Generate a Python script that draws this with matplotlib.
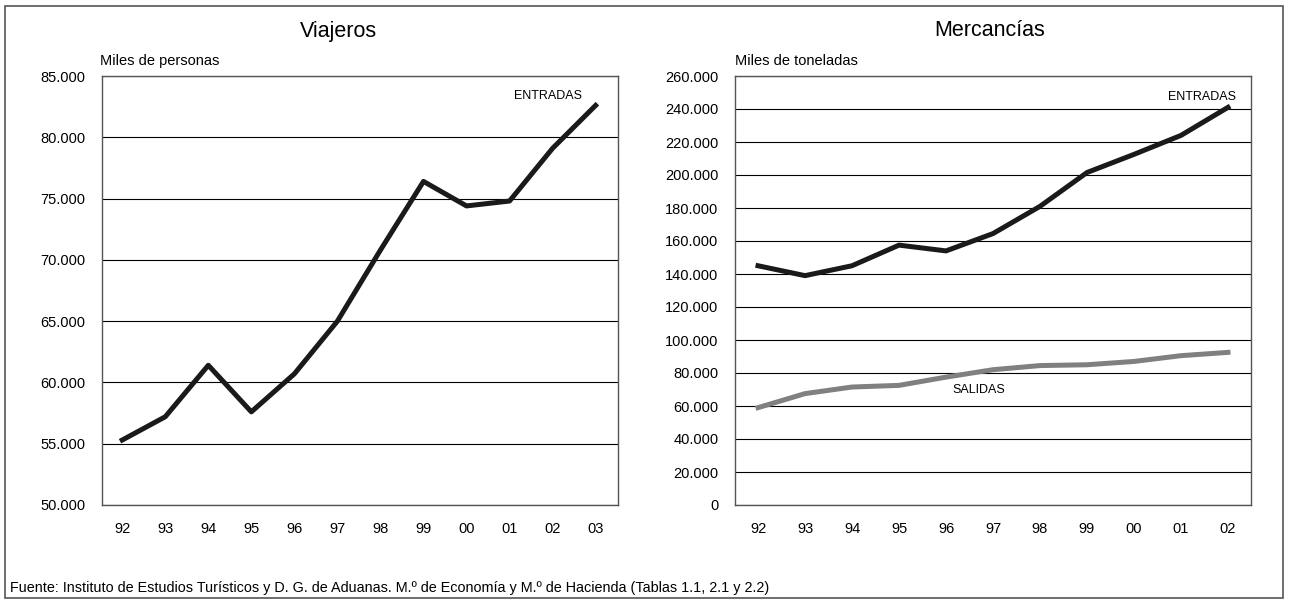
import matplotlib.pyplot as plt
from matplotlib.patches import Rectangle
from matplotlib.ticker import FuncFormatter

# Data (thousands)
years_v = ["92", "93", "94", "95", "96", "97", "98", "99", "00", "01", "02", "03"]
viajeros = [55300, 57200, 61400, 57600, 60700, 65000, 70800, 76400, 74400, 74800, 79100, 82600]

years_m = ["92", "93", "94", "95", "96", "97", "98", "99", "00", "01", "02"]
merc_entradas = [145000, 139000, 145000, 157500, 154000, 164500, 181000, 201500, 212500, 224000, 241000]
merc_salidas = [59000, 67500, 71500, 72500, 77500, 82000, 84500, 85000, 87000, 90500, 92500]

plt.rcParams["font.family"] = ["Liberation Sans", "DejaVu Sans"]

fig = plt.figure(figsize=(12.9, 6.04), dpi=100)
W, H = 1290, 604


def px_axes(x0, y0, x1, y1):
    return fig.add_axes([x0 / W, 1 - y1 / H, (x1 - x0) / W, (y1 - y0) / H])


def thousands(v, pos):
    return f"{int(v):,}".replace(",", ".")


def style(ax, n, ymin, ymax, step, labels):
    ax.set_ylim(ymin, ymax)
    ax.set_yticks(range(ymin, ymax + 1, step))
    ax.yaxis.set_major_formatter(FuncFormatter(thousands))
    ax.set_xticks(range(n))
    ax.set_xticklabels(labels)
    ax.grid(axis="y", color="black", linewidth=0.8)
    ax.set_axisbelow(True)
    ax.tick_params(length=0, labelsize=10.5, pad=12)
    for s in ax.spines.values():
        s.set_color("#555555")
        s.set_linewidth(1.0)


# Outer frame
fig.patches.append(Rectangle((5 / W, 6 / H), 1278 / W, 592 / H, transform=fig.transFigure,
                             fill=False, edgecolor="#555555", linewidth=1.2))

# Viajeros
ax1 = px_axes(102, 76, 618, 505)
ax1.plot(range(len(years_v)), viajeros, color="#1a1a1a", linewidth=3.6)
style(ax1, len(years_v), 50000, 85000, 5000, years_v)
ax1.set_xlim(-0.47, 11.52)
ax1.text(9.9, 83400, "ENTRADAS", fontsize=9, ha="center", va="center")
fig.text(338 / W, 1 - 31 / H, "Viajeros", fontsize=15.5, ha="center", va="center")
fig.text(100 / W, 1 - 61 / H, "Miles de personas", fontsize=10.5, ha="left", va="center")

# Mercancías
ax2 = px_axes(735, 76, 1251, 505)
ax2.plot(range(len(years_m)), merc_entradas, color="#1a1a1a", linewidth=3.6)
ax2.plot(range(len(years_m)), merc_salidas, color="#808080", linewidth=3.6)
style(ax2, len(years_m), 0, 260000, 20000, years_m)
ax2.set_xlim(-0.49, 10.49)
ax2.text(9.45, 247500, "ENTRADAS", fontsize=9, ha="center", va="center")
ax2.text(4.7, 69500, "SALIDAS", fontsize=9, ha="center", va="center")
fig.text(990 / W, 1 - 31 / H, "Mercancías", fontsize=15.5, ha="center", va="center")
fig.text(735 / W, 1 - 61 / H, "Miles de toneladas", fontsize=10.5, ha="left", va="center")

fig.text(10 / W, 1 - 588 / H,
         "Fuente: Instituto de Estudios Turísticos y D. G. de Aduanas. M.º de Economía y M.º de Hacienda (Tablas 1.1, 2.1 y 2.2)",
         fontsize=10.4, ha="left", va="center")

fig.savefig("out.png", dpi=100)
